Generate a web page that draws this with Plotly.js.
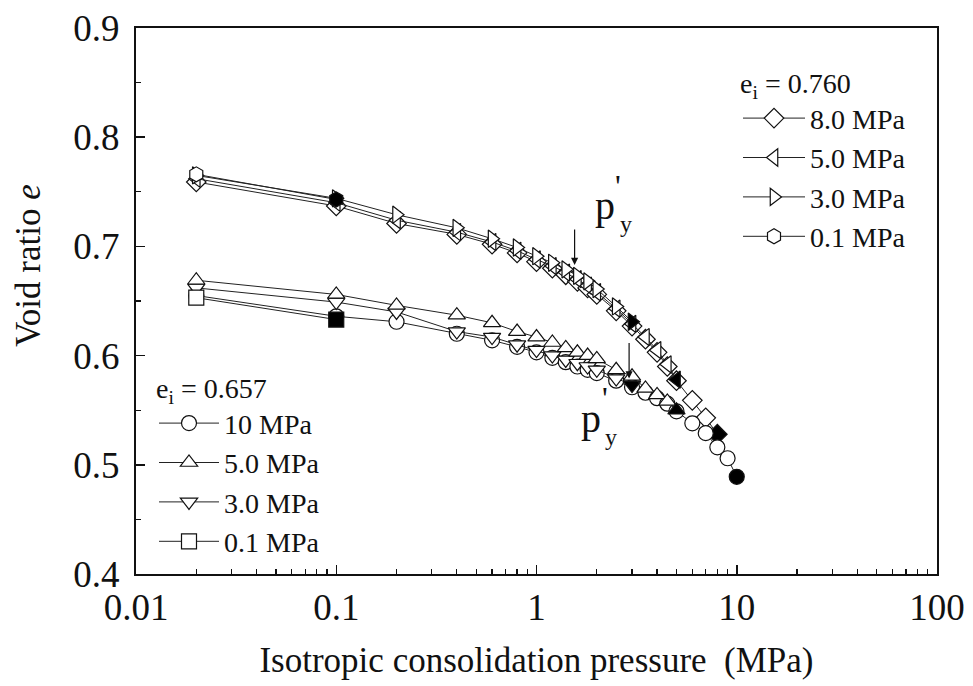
<!DOCTYPE html>
<html>
<head>
<meta charset="utf-8">
<script src="https://cdn.plot.ly/plotly-3.0.1.min.js"></script>
<style>html,body{margin:0;padding:0;background:#fff;}#chart{width:973px;height:686px;}</style>
</head>
<body>
<div id="chart"></div>
<script>
// Pressures (MPa)
const pressures = [0.02, 0.1, 0.2, 0.4, 0.6, 0.8, 1.0, 1.2, 1.4, 1.6, 1.8, 2.0, 2.5, 3.0, 3.5, 4.0, 4.5, 5.0, 6.0, 7.0, 8.0, 9.0, 10.0];

// e_i = 0.760 group
const upper8_0 = [0.759, 0.737, 0.721, 0.711, 0.702, 0.694, 0.686, 0.680, 0.674, 0.668, 0.662, 0.656, 0.641, 0.627, 0.615, 0.603, 0.590, 0.577, 0.559, 0.543, 0.528];
const upper5_0 = [0.762, 0.740, 0.724, 0.713, 0.704, 0.696, 0.688, 0.682, 0.676, 0.670, 0.664, 0.658, 0.643, 0.629, 0.617, 0.605, 0.592, 0.578];
const upper3_0 = [0.765, 0.744, 0.729, 0.717, 0.707, 0.699, 0.691, 0.685, 0.679, 0.673, 0.668, 0.661, 0.645, 0.631];
const upper0_1 = [0.766, 0.743];

// e_i = 0.657 group
const lower10 = [0.655, 0.636, 0.631, 0.620, 0.614, 0.608, 0.603, 0.598, 0.594, 0.590, 0.587, 0.584, 0.577, 0.571, 0.566, 0.561, 0.556, 0.549, 0.538, 0.529, 0.516, 0.506, 0.489];
const lower5_0 = [0.669, 0.656, 0.646, 0.637, 0.630, 0.622, 0.617, 0.612, 0.607, 0.603, 0.600, 0.597, 0.587, 0.581, 0.570, 0.564, 0.558, 0.550];
const lower3_0 = [0.662, 0.649, 0.640, 0.622, 0.617, 0.610, 0.605, 0.600, 0.596, 0.593, 0.590, 0.587, 0.579, 0.573];
const lower0_1 = [0.653, 0.633];

const upperNames = ['8.0 MPa', '5.0 MPa', '3.0 MPa', '0.1 MPa'];
const lowerNames = ['10 MPa', '5.0 MPa', '3.0 MPa', '0.1 MPa'];
const upperTitle = 'e<sub>i</sub> = 0.760';
const lowerTitle = 'e<sub>i</sub> = 0.657';

const xTickVals = [0.01, 0.1, 1, 10, 100];
const xTickText = ['0.01', '0.1', '1', '10', '100'];

const xTitle = 'Isotropic consolidation pressure  (MPa)';
const yTitle = 'Void ratio <i>e</i>';

const FONT = 'Liberation Serif, Times New Roman, serif';

function series(vals, name, symbol, legend, rank) {
  const n = vals.length;
  const colors = vals.map((v, i) => i === n - 1 ? '#000' : '#fff');
  return {
    x: pressures.slice(0, n), y: vals, name: name, legend: legend, legendrank: rank,
    type: 'scatter', mode: 'lines+markers',
    line: {color: '#222', width: 1},
    marker: {symbol: symbol, size: 15, color: colors, line: {color: '#111', width: 1.2}}
  };
}

const traces = [
  series(upper8_0, upperNames[0], 'diamond', 'legend', 1),
  series(upper5_0, upperNames[1], 'triangle-left', 'legend', 2),
  series(upper3_0, upperNames[2], 'triangle-right', 'legend', 3),
  series(upper0_1, upperNames[3], 'hexagon', 'legend', 4),
  series(lower10, lowerNames[0], 'circle', 'legend2', 1),
  series(lower3_0, lowerNames[2], 'triangle-down', 'legend2', 3),
  series(lower5_0, lowerNames[1], 'triangle-up', 'legend2', 2),
  series(lower0_1, lowerNames[3], 'square', 'legend2', 4)
];

const L = 136, R = 937, T = 28, B = 574;
const px = x => (x - L) / (R - L);
const py = y => (B - y) / (B - T);

const minorVals = [];
[0.01, 0.1, 1, 10].forEach(d => { for (let k = 2; k <= 9; k++) minorVals.push(d * k); });

function txt(x, y, text, size, angle) {
  return {xref: 'paper', yref: 'paper', x: px(x), y: py(y), text: text, showarrow: false,
          textangle: angle || 0,
          xanchor: 'center', yanchor: 'middle', font: {family: FONT, size: size, color: '#111'}};
}
function arrow(p, e) {
  return {xref: 'x', yref: 'y', x: Math.log10(p), y: e, text: '', showarrow: true,
          ax: 0, ay: -37, arrowhead: 2, arrowsize: 1.2, arrowwidth: 1.2, arrowcolor: '#111'};
}

const legendFont = {family: FONT, size: 28, color: '#111'};

const layout = {
  width: 973, height: 686,
  margin: {l: L, r: 973 - R, t: T, b: 686 - B, pad: 0},
  paper_bgcolor: '#fff', plot_bgcolor: '#fff',
  font: {family: FONT, color: '#111'},
  xaxis: {
    type: 'log', range: [-2, 2], tickmode: 'array', tickvals: xTickVals, ticktext: xTickText,
    ticks: 'inside', ticklen: 9, tickwidth: 1.5, tickcolor: '#111',
    minor: {tickmode: 'array', tickvals: minorVals, ticks: 'inside', ticklen: 5, tickwidth: 1.2, tickcolor: '#111', showgrid: false},
    showline: true, linecolor: '#111', linewidth: 2, mirror: true,
    showgrid: false, zeroline: false,
    tickfont: {family: FONT, size: 37, color: '#111'},
    title: {text: xTitle, font: {family: FONT, size: 35, color: '#111'}, standoff: 20}
  },
  yaxis: {
    range: [0.4, 0.9], dtick: 0.1, tick0: 0.4, tickformat: '.1f',
    ticks: 'inside', ticklen: 9, tickwidth: 1.5, tickcolor: '#111',
    minor: {dtick: 0.05, ticks: 'inside', ticklen: 5, tickwidth: 1.2, tickcolor: '#111', showgrid: false},
    showline: true, linecolor: '#111', linewidth: 2, mirror: true,
    showgrid: false, zeroline: false, ticklabelstandoff: 7,
    tickfont: {family: FONT, size: 37, color: '#111'}
  },
  legend: {
    x: px(738), y: py(57), xanchor: 'left', yanchor: 'top',
    bgcolor: 'rgba(0,0,0,0)', borderwidth: 0, itemwidth: 62,
    font: legendFont,
    title: {text: upperTitle, font: legendFont},
    traceorder: 'normal'
  },
  legend2: {
    x: px(154), y: py(362), xanchor: 'left', yanchor: 'top',
    bgcolor: 'rgba(0,0,0,0)', borderwidth: 0, itemwidth: 60,
    font: legendFont,
    title: {text: lowerTitle, font: legendFont},
    traceorder: 'normal'
  },
  annotations: [
    txt(28, 266, yTitle, 35, -90),
    arrow(1.55, 0.683),
    arrow(2.9, 0.579),
    txt(605, 206, 'p', 40), txt(618, 186, "'", 32), txt(626, 224, 'y', 24),
    txt(591, 418, 'p', 40), txt(605, 398, "'", 32), txt(611, 437, 'y', 24)
  ],
  showlegend: true
};

Plotly.newPlot('chart', traces, layout, {displayModeBar: false, staticPlot: true});
</script>
</body>
</html>
